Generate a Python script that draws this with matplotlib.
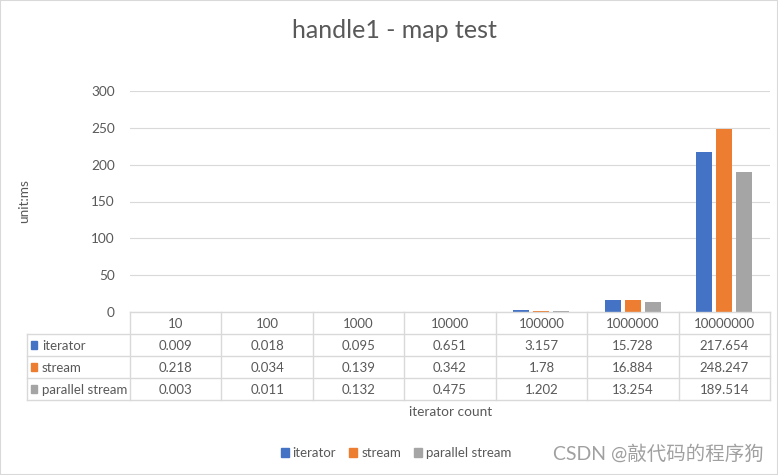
import matplotlib.pyplot as plt
import numpy as np
from matplotlib.patches import Patch, Rectangle

plt.rcParams['font.family'] = ['Lato', 'Noto Sans CJK SC', 'DejaVu Sans']

categories = ["10", "100", "1000", "10000", "100000", "1000000", "10000000"]
series_names = ["iterator", "stream", "parallel stream"]
iterator_ms = [0.009, 0.018, 0.095, 0.651, 3.157, 15.728, 217.654]
stream_ms = [0.218, 0.034, 0.139, 0.342, 1.78, 16.884, 248.247]
parallel_ms = [0.003, 0.011, 0.132, 0.475, 1.202, 13.254, 189.514]
y_ticks = [0, 50, 100, 150, 200, 250, 300]

series = [iterator_ms, stream_ms, parallel_ms]
colors = ["#4472C4", "#ED7D31", "#A5A5A5"]
text_c = "#595959"
grid_c = "#d9d9d9"

W, H = 778, 475
fig = plt.figure(figsize=(W / 100, H / 100), dpi=100)

# main plot area (pixel layout)
ax = fig.add_axes([130 / W, 1 - 312 / H, 640 / W, 221 / H])
x = np.arange(len(categories))
bw = 0.175
step = 0.219
for i, (vals, c) in enumerate(zip(series, colors)):
    ax.bar(x + (i - 1) * step, vals, width=bw, color=c, zorder=3)

ax.set_xlim(-0.5, len(categories) - 0.5)
ax.set_ylim(0, 300)
ax.set_yticks(y_ticks)
ax.set_xticks([])
ax.grid(axis="y", color=grid_c, linewidth=0.8, zorder=0)
for s in ax.spines.values():
    s.set_visible(False)
ax.tick_params(axis="y", length=0, pad=11, labelsize=9.8, labelcolor=text_c)
ax.set_ylabel("unit:ms", fontsize=9.8, color=text_c, labelpad=44)

# data table under the plot
lbl_w = 103.3 / 91.43
tax = fig.add_axes([26.7 / W, 1 - 400 / H, 743.3 / W, 88 / H])
x0 = -0.5 - lbl_w
x1 = len(categories) - 0.5
tax.set_xlim(x0, x1)
tax.set_ylim(4, 0)
tax.axis("off")
lk = dict(color=grid_c, linewidth=1, clip_on=False)
tax.plot([-0.5, x1], [0, 0], **lk)
for r in range(1, 5):
    tax.plot([x0, x1], [r, r], **lk)
tax.plot([x0, x0], [1, 4], **lk)
for k in range(len(categories) + 1):
    tax.plot([k - 0.5, k - 0.5], [0, 4], **lk)
for i, cat in enumerate(categories):
    tax.text(i, 0.55, cat, ha="center", va="center", fontsize=9.5, color=text_c)
for r, (name, vals, c) in enumerate(zip(series_names, series, colors)):
    yc = r + 1.5
    tax.add_patch(Rectangle((x0 + 0.044, yc - 0.16), 0.072, 0.32, color=c, clip_on=False))
    tax.text(x0 + 0.165, yc + 0.05, name, ha="left", va="center", fontsize=9.5, color=text_c)
    for i, v in enumerate(vals):
        tax.text(i, yc + 0.05, str(v), ha="center", va="center", fontsize=9.5, color=text_c)

fig.text(451 / W, 1 - 412 / H, "iterator count", ha="center", va="center",
         fontsize=9.8, color=text_c)
fig.text(394 / W, 1 - 31 / H, "handle1 - map test", ha="center", va="center",
         fontsize=18, color=text_c)

handles = [Patch(color=c, label=n) for c, n in zip(colors, series_names)]
fig.legend(handles=handles, loc="center", bbox_to_anchor=(396 / W, 1 - 453 / H),
           ncol=3, frameon=False, fontsize=9.5, labelcolor=text_c,
           handlelength=0.6, handleheight=0.6, handletextpad=0.3, columnspacing=1.0)

fig.text(658 / W, 1 - 453 / H, "CSDN @敲代码的程序狗", ha="center", va="center",
         fontsize=14, color="#a0a0a0")

fig.add_artist(Rectangle((0, 0), 1, 1, transform=fig.transFigure, fill=False,
                         edgecolor=grid_c, linewidth=1.5))

fig.savefig("out.png", dpi=100)
